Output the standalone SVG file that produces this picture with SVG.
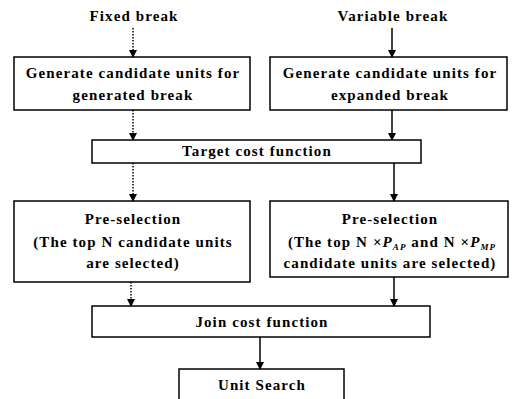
<svg xmlns="http://www.w3.org/2000/svg" width="512" height="399" viewBox="0 0 512 399">
<style>
.box{fill:#fff;stroke:#000;stroke-width:1.5}
text{font-family:"Liberation Serif","Times New Roman",serif;font-weight:bold;font-size:15px;letter-spacing:1.1px;fill:#000;text-anchor:middle}
.solid{stroke:#000;stroke-width:1.5;fill:none}
.dot{stroke:#000;stroke-width:1.5;fill:none;stroke-dasharray:1.5 1.5}
</style>
<defs>
<marker id="ah" markerWidth="8" markerHeight="8" refX="7" refY="4" orient="auto" markerUnits="userSpaceOnUse">
<path d="M0,0 L8,4 L0,8 z" fill="#000"/>
</marker>
</defs>
<g id="fixed"><text x="134" y="21">Fixed break</text></g>
<g id="variable"><text x="393" y="21">Variable break</text></g>
<g id="gen1"><rect class="box" x="14" y="57" width="236" height="53"/>
<text x="133" y="78">Generate candidate units for</text>
<text x="133" y="100">generated break</text></g>
<g id="gen2"><rect class="box" x="270" y="57" width="237" height="53"/>
<text x="390" y="78">Generate candidate units for</text>
<text x="390" y="100">expanded break</text></g>
<g id="target"><rect class="box" x="92" y="140" width="329" height="23"/>
<text x="257" y="156">Target cost function</text></g>
<g id="pre1"><rect class="box" x="14" y="201" width="236" height="81"/>
<text x="133" y="224">Pre-selection</text>
<text x="133" y="247">(The top N candidate units</text>
<text x="133" y="268">are selected)</text></g>
<g id="pre2"><rect class="box" x="270" y="201" width="238" height="76"/>
<text x="390" y="224">Pre-selection</text>
<text x="392" y="247">(The top N ×<tspan font-style="italic">P</tspan><tspan font-style="italic" font-size="9" dy="3">AP</tspan><tspan dy="-3"> and N ×</tspan><tspan font-style="italic">P</tspan><tspan font-style="italic" font-size="9" dy="3">MP</tspan></text>
<text x="390" y="268">candidate units are selected)</text></g>
<g id="join"><rect class="box" x="92" y="306" width="338" height="31"/>
<text x="262" y="327">Join cost function</text></g>
<g id="unit"><rect class="box" x="179" y="369" width="165" height="32"/>
<text x="262" y="390">Unit Search</text></g>
<g id="connectors">
<line class="dot" x1="133" y1="28" x2="133" y2="57" marker-end="url(#ah)"/>
<line class="solid" x1="392" y1="28" x2="392" y2="57" marker-end="url(#ah)"/>
<line class="dot" x1="133" y1="110" x2="133" y2="140" marker-end="url(#ah)"/>
<line class="solid" x1="392" y1="110" x2="392" y2="140" marker-end="url(#ah)"/>
<line class="dot" x1="133" y1="163" x2="133" y2="201" marker-end="url(#ah)"/>
<line class="solid" x1="394" y1="163" x2="394" y2="201" marker-end="url(#ah)"/>
<line class="dot" x1="131" y1="282" x2="131" y2="306" marker-end="url(#ah)"/>
<line class="solid" x1="394" y1="277" x2="394" y2="306" marker-end="url(#ah)"/>
<line class="solid" x1="260" y1="337" x2="260" y2="369" marker-end="url(#ah)"/>
</g>
</svg>
